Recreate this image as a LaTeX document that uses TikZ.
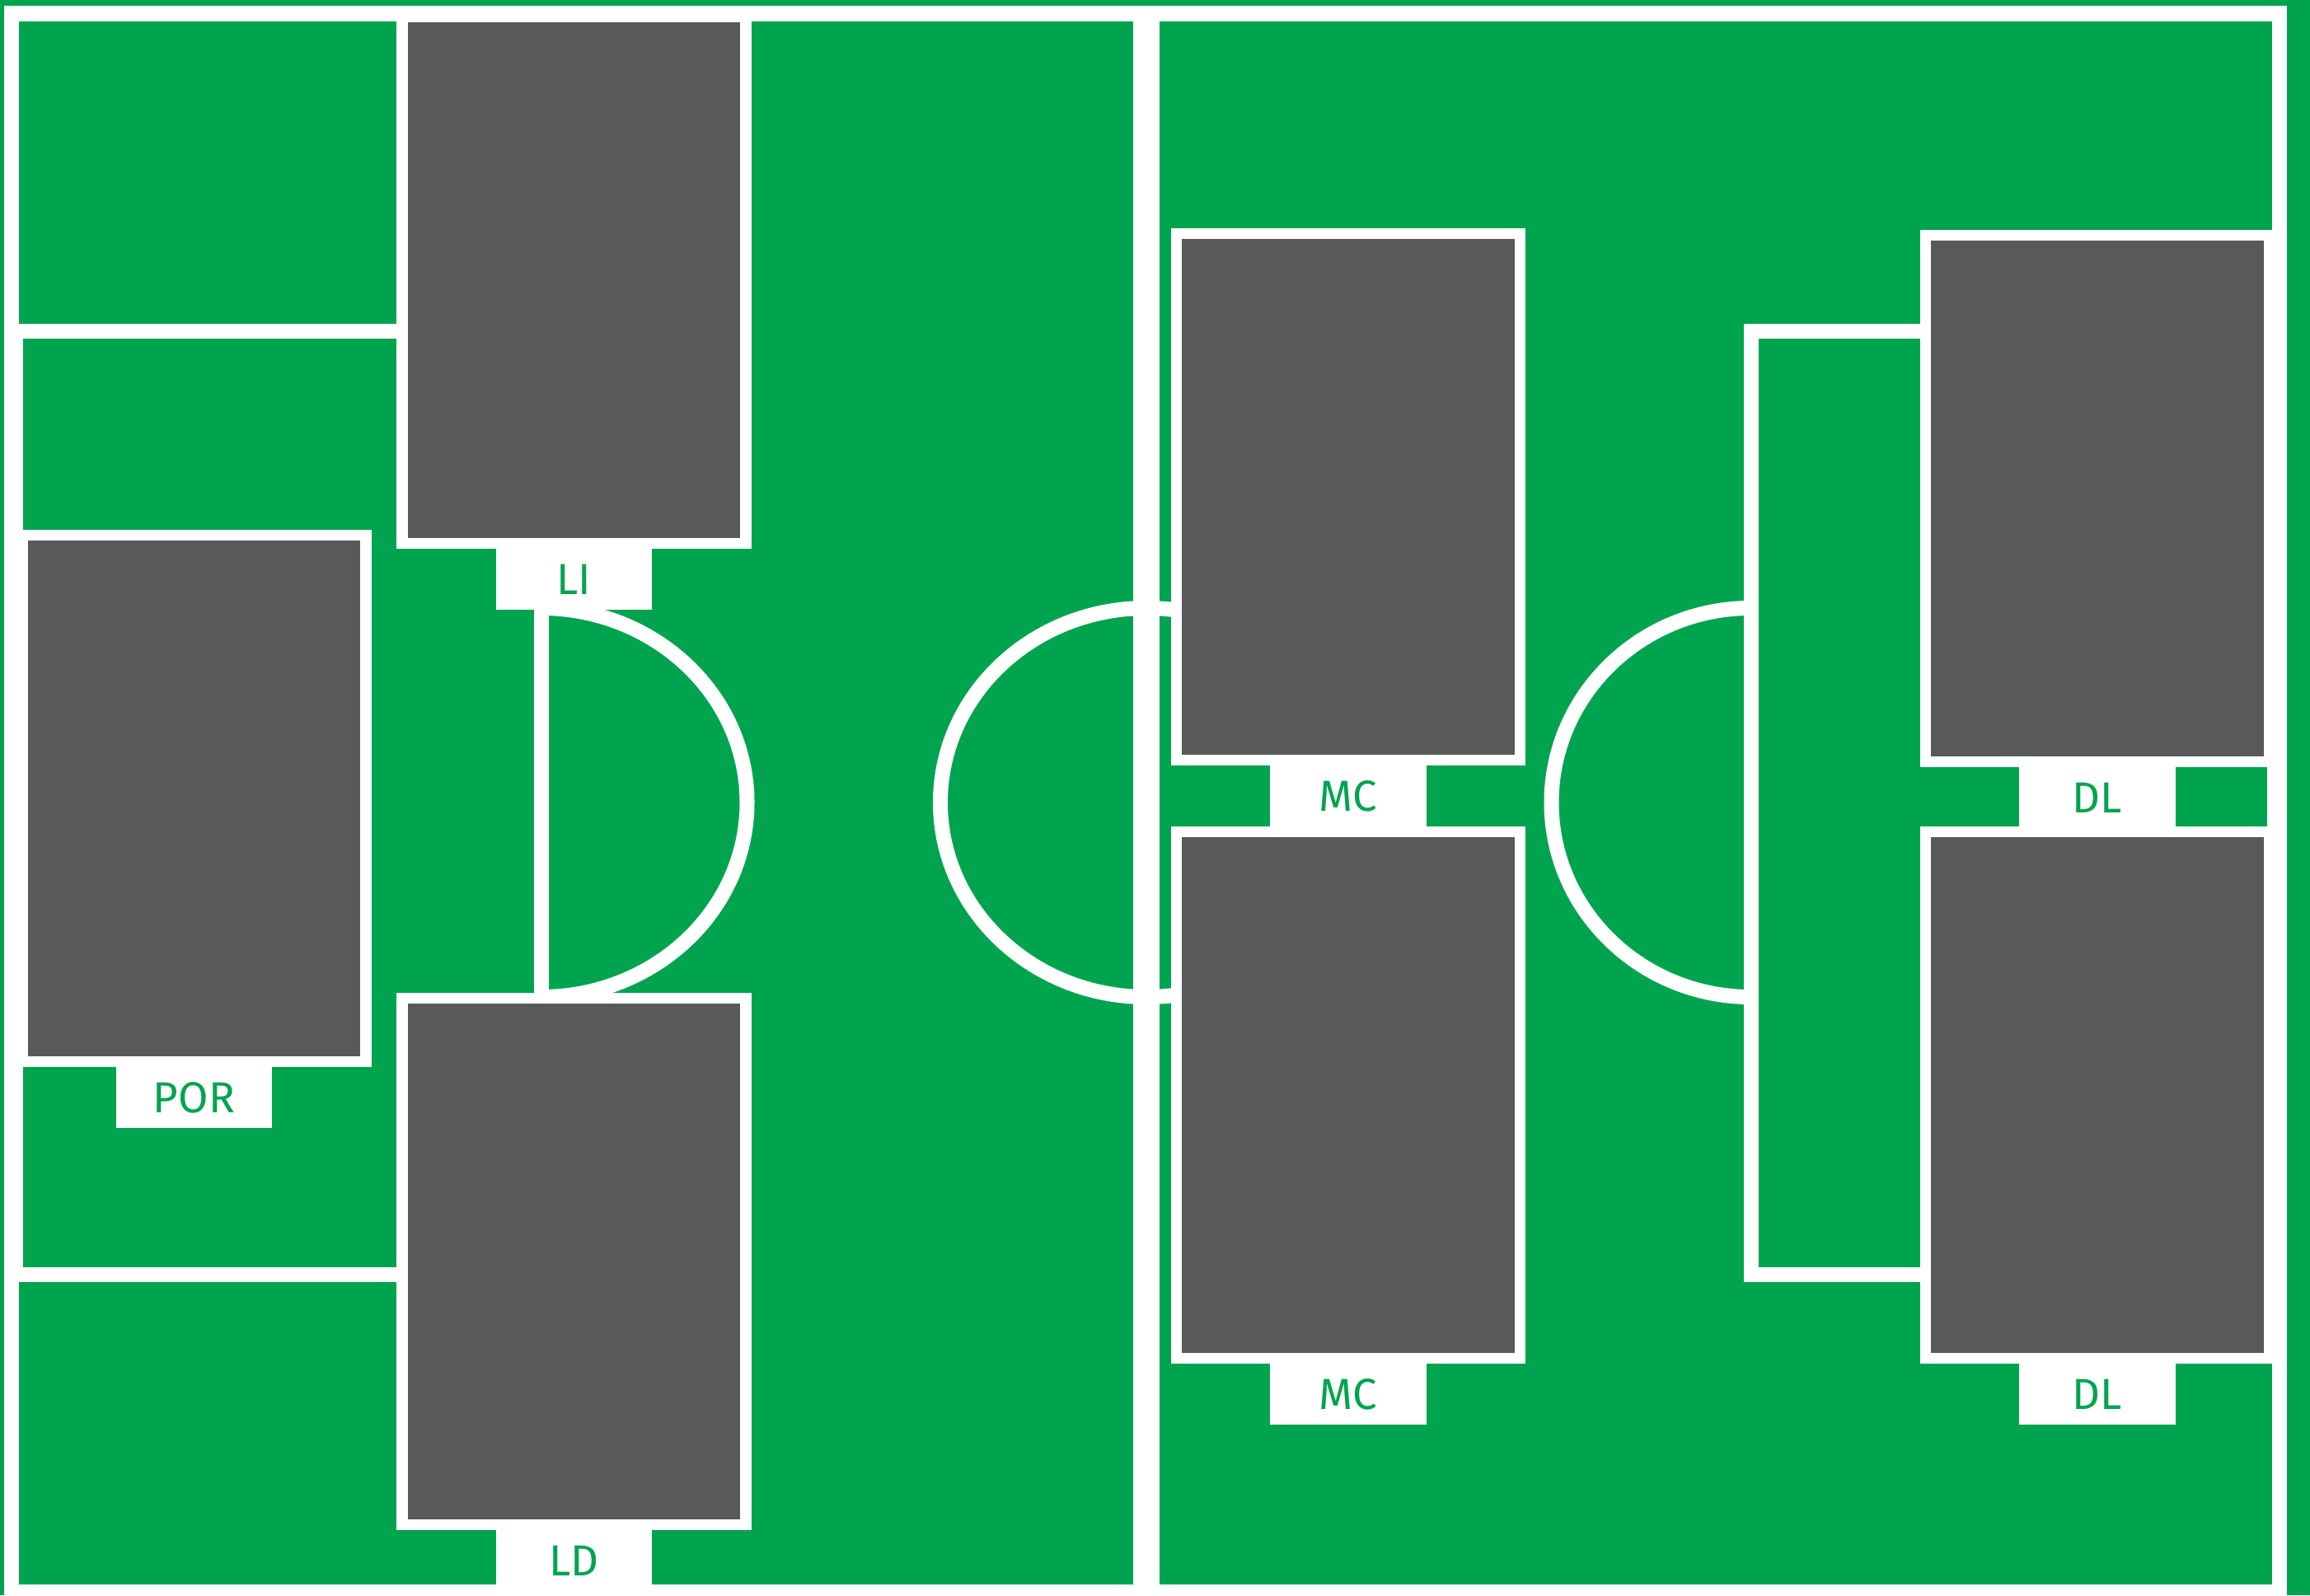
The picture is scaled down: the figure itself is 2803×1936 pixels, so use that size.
\documentclass[tikz,border=0pt]{standalone}
\usepackage{fontspec}
\setmainfont{Fira Sans}
\usetikzlibrary{positioning}
\definecolor{pitchgreen}{HTML}{00A44F}
\definecolor{cardgray}{HTML}{58595B}
\tikzset{
  pitchline/.style={draw=white, line width=0.18cm},
  midline/.style={draw=white, line width=0.32cm},
  playercard/.style={draw=white, fill=cardgray, line width=0.135cm, minimum width=4.165cm, minimum height=6.385cm, inner sep=0pt},
  poslabel/.style={fill=white, text=pitchgreen, minimum width=1.89cm, minimum height=0.74cm, inner sep=0pt, outer sep=0pt, font=\fontsize{15}{18}\selectfont}
}

\begin{document}
\begin{tikzpicture}[x=0.01cm, y=-0.01cm]
  \useasboundingbox (0,0) rectangle (2803,1936);
  \fill[pitchgreen] (0,0) rectangle (2803,1936);
  \draw[pitchline] (14,16.5) rectangle (2765.5,1931.5);
  \draw[midline] (1391,16.5) -- (1391,1931.5);
  \draw[pitchline] (1391,974) ellipse [x radius=250, y radius=236];
  \draw[pitchline] (19,401.5) rectangle (656.5,1546.5);
  \draw[pitchline] (2124.5,401.5) rectangle (2760,1546.5);
  \draw[pitchline] (656.5,974) ++(0,-236) arc[start angle=-90, end angle=90, x radius=250, y radius=236];
  \draw[pitchline] (2124.5,974) ++(0,-236) arc[start angle=270, end angle=90, x radius=242, y radius=236];

  \node[playercard] (li) at (696.5,340) {};
  \node[poslabel, below=0pt of li] (lilab) {LI};
  \node[playercard] (por) at (235.5,969) {};
  \node[poslabel, below=0pt of por] (porlab) {POR};
  \node[playercard] (ld) at (696.5,1531) {};
  \node[poslabel, below=0pt of ld] (ldlab) {LD};
  \node[playercard] (mca) at (1636,603) {};
  \node[poslabel, below=0pt of mca] (mcalab) {MC};
  \node[playercard] (mcb) at (1636,1329) {};
  \node[poslabel, below=0pt of mcb] (mcblab) {MC};
  \node[playercard] (dla) at (2545,605) {};
  \node[poslabel, below=0pt of dla] (dlalab) {DL};
  \node[playercard] (dlb) at (2545,1329) {};
  \node[poslabel, below=0pt of dlb] (dlblab) {DL};
\end{tikzpicture}
\end{document}
